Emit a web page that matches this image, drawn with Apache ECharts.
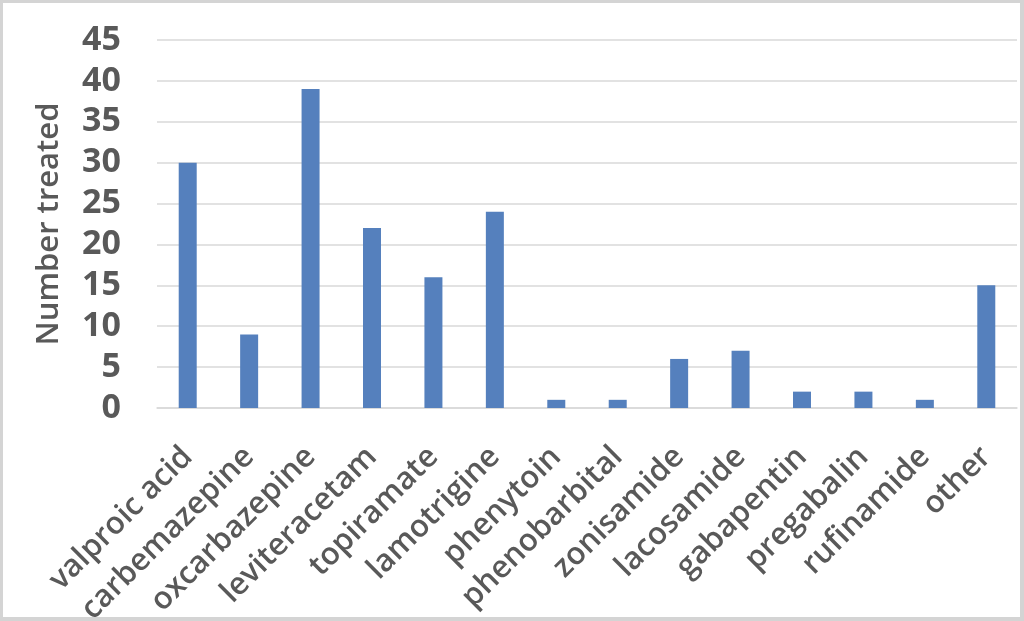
<!DOCTYPE html>
<html>
<head>
<meta charset="utf-8">
<script src="https://cdn.jsdelivr.net/npm/echarts@6/dist/echarts.min.js"></script>
<style>
html, body { margin: 0; padding: 0; height: 100%; background: #fff; }
#frame {
	position: absolute; left: 0; top: 0;
	width: 1024px; height: 621px;
	box-sizing: border-box;
	border: 3px solid #d4d4d4;
	border-right-width: 4px; border-bottom-width: 4px;
}
#main { width: 100%; height: 100%; }
</style>
</head>
<body>
<div id="frame"><div id="main"></div></div>
<script>
var drugs = ['valproic acid', 'carbemazepine', 'oxcarbazepine', 'leviteracetam', 'topiramate',
	'lamotrigine', 'phenytoin', 'phenobarbital', 'zonisamide', 'lacosamide',
	'gabapentin', 'pregabalin', 'rufinamide', 'other'];
var treated = [30, 9, 39, 22, 16, 24, 1, 1, 6, 7, 2, 2, 1, 15];

var myChart = echarts.init(document.getElementById('main'));
var txt = '#595959';

myChart.setOption({
	animation: false,
	grid: { left: 154, right: 3, top: 37, bottom: 209, outerBoundsMode: 'none' },
	xAxis: {
		type: 'category',
		data: drugs,
		axisLine: { lineStyle: { color: '#d9d9d9', width: 1.5 } },
		axisTick: { show: false },
		axisLabel: {
			rotate: 45, interval: 0, margin: 44,
			color: txt, fontSize: 31, fontFamily: 'Open Sans', fontWeight: 600
		}
	},
	yAxis: {
		type: 'value',
		min: 0, max: 45, interval: 5,
		name: 'Number treated',
		nameLocation: 'middle',
		nameGap: 92,
		nameTextStyle: { color: txt, fontSize: 31, fontFamily: 'Open Sans', fontWeight: 600 },
		axisLine: { show: false },
		axisTick: { show: false },
		axisLabel: {
			margin: 36, color: txt, fontSize: 34, fontWeight: 'bold', fontFamily: 'Open Sans'
		},
		splitLine: { lineStyle: { color: '#d9d9d9', width: 1.5 } }
	},
	series: [{
		type: 'bar',
		data: treated,
		barWidth: 18,
		itemStyle: { color: '#5580bd' }
	}]
});
</script>
</body>
</html>
